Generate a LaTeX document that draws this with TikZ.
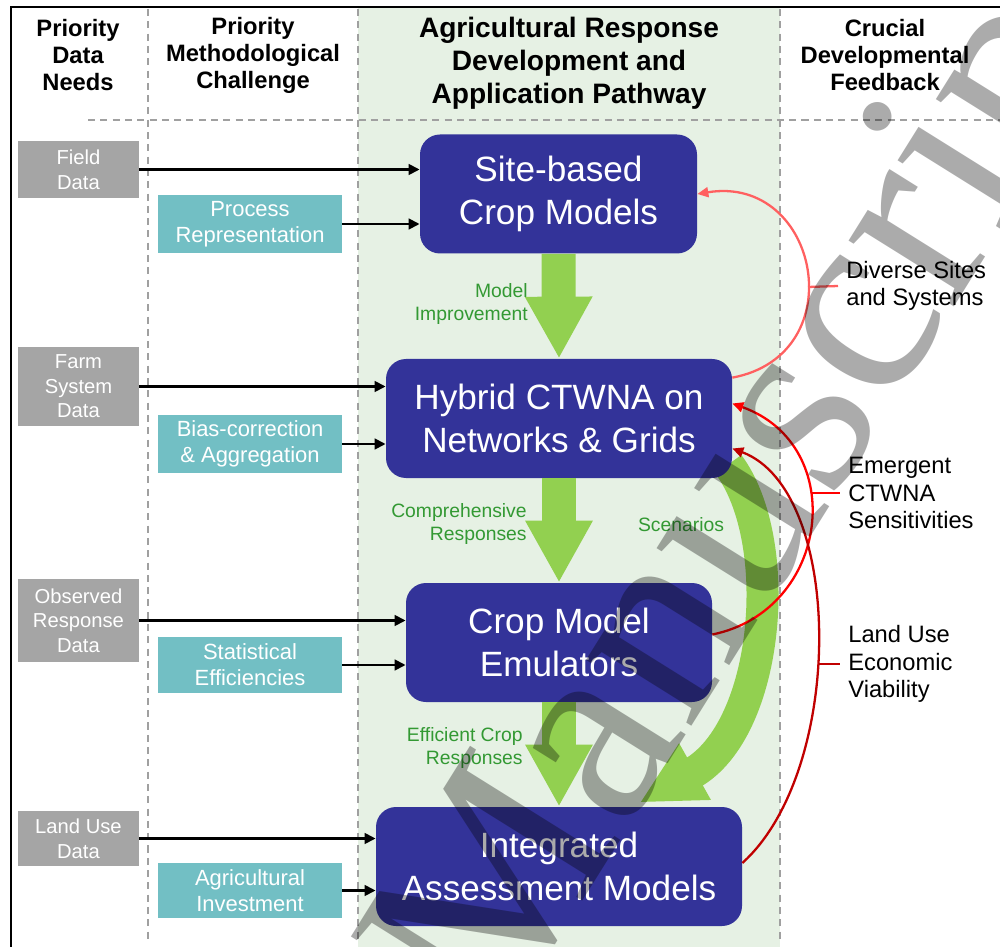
\documentclass[tikz,border=0pt]{standalone}
\usepackage{fontspec}
\setmainfont{Liberation Sans}
\newfontfamily\wmfont{Liberation Serif}
\usetikzlibrary{arrows.meta, calc}
\definecolor{dataGray}{HTML}{A5A5A5}
\definecolor{methTeal}{HTML}{72BFC4}
\definecolor{pathBlue}{HTML}{333399}
\definecolor{pathBack}{HTML}{E6F1E4}
\definecolor{flowGreen}{HTML}{92D050}
\definecolor{labelGreen}{HTML}{339933}
\definecolor{siteRed}{HTML}{FF6060}
\definecolor{emergRed}{HTML}{FF0000}
\definecolor{econRed}{HTML}{C00000}
\definecolor{gridGray}{HTML}{A0A0A0}
\pgfdeclarelayer{bg}
\pgfdeclarelayer{mid}
\pgfsetlayers{bg,mid,main}

\begin{document}
\begin{tikzpicture}[x=0.2mm, y=-0.2mm,
    databox/.style={fill=dataGray, text=white, minimum width=24.2mm, align=center,
        inner sep=0pt, font=\fontsize{11.5}{14}\selectfont},
    methbox/.style={fill=methTeal, text=white, minimum width=36.8mm, align=center,
        inner sep=0pt, font=\fontsize{12.5}{14.8}\selectfont},
    pathbox/.style={fill=pathBlue, text=white, rounded corners=4mm, minimum height=23.8mm,
        align=center, font=\fontsize{20}{24}\selectfont},
    colhead/.style={align=center, font=\bfseries\fontsize{13.5}{15.4}\selectfont},
    feedlbl/.style={anchor=west, align=left, inner xsep=1.6mm, inner ysep=0pt,
        font=\fontsize{13.5}{15.6}\selectfont},
    flowlbl/.style={align=right, anchor=east, inner sep=0pt, text=labelGreen,
        font=\fontsize{11}{13.6}\selectfont},
    feedarrow/.style={line width=1.3pt, -{Triangle[length=2.2mm,width=2mm]}},
    inarrow/.style={line width=1.6pt, -{Triangle[length=2.2mm,width=2.1mm]}},
    flowarrow/.style={draw=flowGreen, line width=6.8mm,
        -{Triangle[length=12.4mm,width=12.6mm]}}]
    \useasboundingbox (0,0) rectangle (1000,947);
    % columns
    \begin{pgfonlayer}{bg}
        \fill[pathBack] (358,7) rectangle (780,947);
        \foreach \x in {148,358,780}
            \draw[gridGray, line width=0.8pt, dash pattern=on 4pt off 3pt] (\x,9) -- (\x,940);
        \draw[gridGray, line width=0.8pt, dash pattern=on 4pt off 3pt] (88,120) -- (1000,120);
    \end{pgfonlayer}
    \draw[line width=1.6pt] (11,947) -- (11,7) -- (1000,7);
    \node[colhead] (hdata) at (78,55) {Priority\\Data\\Needs};
    \node[colhead] (hmeth) at (253,55) {Priority\\Methodological\\Challenge};
    \node[colhead, font=\bfseries\fontsize{16}{18.8}\selectfont] (hpath) at (569,63)
        {Agricultural Response\\Development and\\Application Pathway};
    \node[colhead] (hfeed) at (885,55) {Crucial\\Developmental\\Feedback};
    % data needs
    \node[databox, minimum height=11.4mm] (field) at (78.5,169.5) {Field\\Data};
    \node[databox, minimum height=15.8mm] (farm) at (78.5,386.5) {Farm\\System\\Data};
    \node[databox, minimum height=16.6mm] (obs) at (78.5,620.5) {Observed\\Response\\Data};
    \node[databox, minimum height=11mm] (landuse) at (78.5,838.5) {Land Use\\Data};
    % methodological challenges
    \node[methbox, minimum height=11.6mm] (proc) at (250,224) {Process\\Representation};
    \node[methbox, minimum height=11.6mm] (bias) at (250,444) {Bias-correction\\\& Aggregation};
    \node[methbox, minimum height=11.2mm] (stat) at (250,665) {Statistical\\Efficiencies};
    \node[methbox, minimum height=11mm] (invest) at (250,890.5) {Agricultural\\Investment};
    % pathway
    \node[pathbox, minimum width=55.4mm] (site) at (558.5,194) {Site-based\\Crop Models};
    \node[pathbox, minimum width=69.2mm] (hyb) at (559,418.5) {Hybrid CTWNA on\\Networks \& Grids};
    \node[pathbox, minimum width=61.2mm] (emu) at (559,642.5) {Crop Model\\Emulators};
    \node[pathbox, minimum width=73.2mm] (iam) at (559,866.5) {Integrated\\Assessment Models};
    \foreach \src/\dst in {field/site, proc/site, farm/hyb, bias/hyb,
                           obs/emu, stat/emu, landuse/iam, invest/iam}
        \draw[inarrow] (\src.east) -- (\src.east -| \dst.west);
    % green flows
    \draw[flowarrow] (site.south) -- (hyb.north);
    \draw[flowarrow] (hyb.south) -- (emu.north);
    \draw[flowarrow] (emu.south) -- (iam.north);
    \begin{pgfonlayer}{mid}
        \draw[flowarrow, line width=6.4mm, -{Triangle[length=12.7mm,width=12mm]}]
            ($(hyb.south east)+(-4,-14)$) .. controls +(57,76) and +(130,-73)
            .. ($(iam.north west)+(264,-4)$);
    \end{pgfonlayer}
    \node[flowlbl] (lblimp) at (528,304) {Model\\Improvement};
    \node[flowlbl] (lblcomp) at (527,524) {Comprehensive\\Responses};
    \node[flowlbl, anchor=center] (lblscen) at (681,525) {Scenarios};
    \node[flowlbl] (lbleff) at (523,748) {Efficient Crop\\Responses};
    % feedback
    \draw[feedarrow, siteRed] ([yshift=-3.8mm]hyb.north east)
        .. controls +(122,-23) and +(122,-20) .. (site.east);
    \draw[feedarrow, emergRed] ([yshift=1.6mm]emu.east)
        .. controls +(118,-24) and +(117,42) .. ([yshift=3mm]hyb.east);
    \draw[feedarrow, econRed] ([yshift=0.7mm]iam.east)
        .. controls +(103,-93) and +(112,42) .. ([yshift=-6mm]hyb.east);
    \coordinate (sitetick) at (808,287);
    \coordinate (emergtick) at (811,493);
    \coordinate (econtick) at (818,664);
    \node[feedlbl] (lbldiv) at (838,286) {Diverse Sites\\and Systems};
    \node[feedlbl] (lblemerg) at (840,493) {Emergent\\CTWNA\\Sensitivities};
    \node[feedlbl] (lblecon) at (840,664) {Land Use\\Economic\\Viability};
    \draw[siteRed, line width=1.3pt] (sitetick) -- (lbldiv.west);
    \draw[emergRed, line width=1.3pt] (emergtick) -- (lblemerg.west);
    \draw[econRed, line width=1.3pt] (econtick) -- (lblecon.west);
    % watermark
    \begin{scope}
        \clip (0,0) rectangle (1000,947);
        \node[rotate=58, anchor=base west, inner sep=0pt, text=black, text opacity=0.33,
            font=\wmfont\fontsize{154}{154}\selectfont] (wmark) at (497,1038) {Manuscript};
    \end{scope}
\end{tikzpicture}
\end{document}
